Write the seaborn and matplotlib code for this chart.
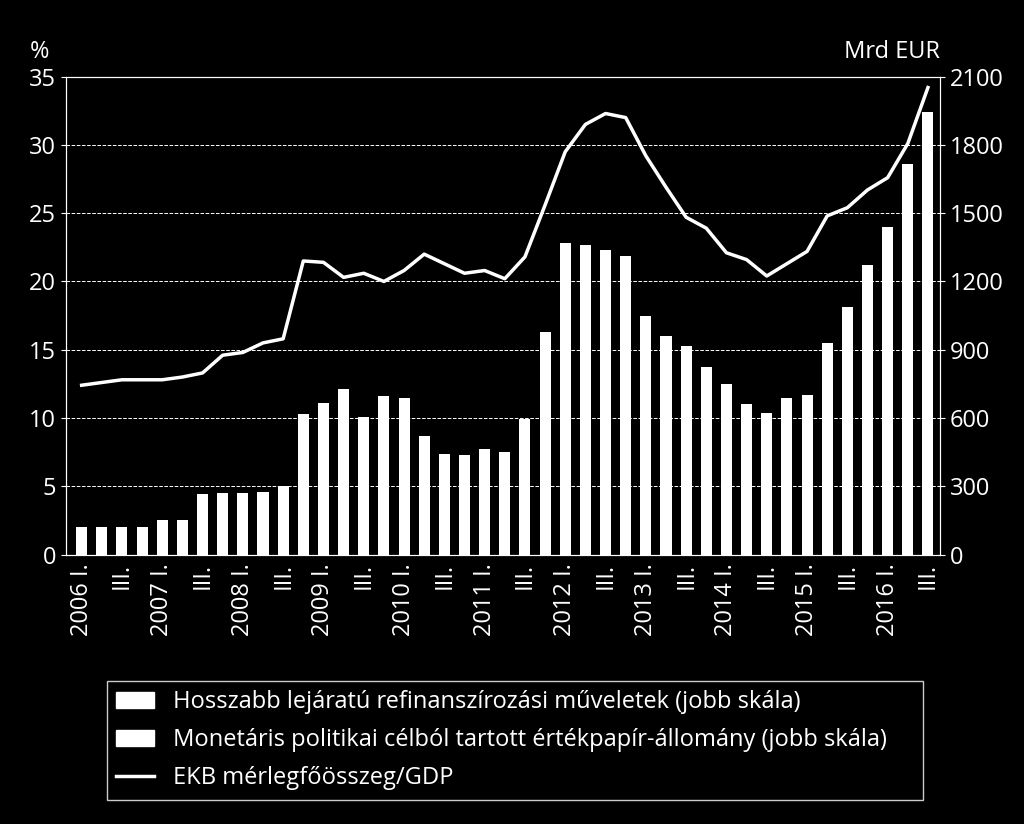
import matplotlib
matplotlib.use("Agg")
import matplotlib.pyplot as plt
import seaborn as sns
import numpy as np
import pandas as pd
from matplotlib.patches import Patch
from matplotlib.lines import Line2D

years = list(range(2006, 2017))
tick_labels = []
for y in years:
    tick_labels += [f"{y} I.", "", "III.", ""]
tick_labels = tick_labels[:43]

bars_pct = [2, 2, 2, 2, 2.5, 2.5, 4.4, 4.5, 4.5, 4.6, 5.0, 10.3, 11.1, 12.1, 10.1, 11.6,
            11.5, 8.7, 7.4, 7.3, 7.7, 7.5, 9.9, 16.3, 22.8, 22.7, 22.3, 21.9, 17.5, 16.0,
            15.3, 13.7, 12.5, 11.0, 10.4, 11.5, 11.7, 15.5, 18.1, 21.2, 24.0, 28.6, 32.4]
bars_eur = [v * 60 for v in bars_pct]
line_pct = [12.4, 12.6, 12.8, 12.8, 12.8, 13.0, 13.3, 14.6, 14.8, 15.5, 15.8, 21.5, 21.4,
            20.3, 20.6, 20.0, 20.8, 22.0, 21.3, 20.6, 20.8, 20.2, 21.8, 25.6, 29.5, 31.5,
            32.3, 32.0, 29.2, 26.9, 24.7, 23.9, 22.1, 21.6, 20.4, 21.3, 22.2, 24.8, 25.4,
            26.7, 27.6, 30.1, 34.2]
legend_labels = ["Hosszabb lejáratú refinanszírozási műveletek (jobb skála)",
                 "Monetáris politikai célból tartott értékpapír-állomány (jobb skála)",
                 "EKB mérlegfőösszeg/GDP"]

df = pd.DataFrame({"q": range(43), "bar": bars_eur, "line": line_pct})

plt.rcParams["font.family"] = "Open Sans"
fig = plt.figure(figsize=(10.24, 8.24), dpi=100, facecolor="black")
ax = fig.add_axes([0.064, 0.327, 0.854, 0.58])
ax.set_facecolor("black")
ax2 = ax.twinx()

sns.barplot(data=df, x="q", y="bar", ax=ax2, color="white", width=0.55, saturation=1)
ax2.set_ylim(0, 2100)
ax2.set_yticks(range(0, 2101, 300))
ax.set_ylim(0, 35)
ax.set_yticks(range(0, 36, 5))
ax.set_xlim(-0.8, 42.6)
ax.grid(axis="y", color="white", linestyle="--", linewidth=0.7)
ax.set_axisbelow(True)
ax2.set_zorder(1)
ax.set_zorder(2)
ax.patch.set_visible(False)
sns.lineplot(data=df, x="q", y="line", ax=ax, color="white", linewidth=2.5)

ax.set_xticks(range(43))
ax.set_xticklabels(tick_labels, rotation=90)
ax.tick_params(axis="x", length=0, pad=6)
for a in (ax, ax2):
    a.set_xlabel(""); a.set_ylabel("")
    a.tick_params(colors="white", labelsize=17)
    for s in a.spines.values():
        s.set_color("white")
ax2.tick_params(axis="x", length=0)
ax.text(-0.03, 1.04, "%", transform=ax.transAxes, color="white", fontsize=17, ha="center")
ax.text(1.0, 1.04, "Mrd EUR", transform=ax.transAxes, color="white", fontsize=17, ha="right")

handles = [Patch(facecolor="white", edgecolor="white"), Patch(facecolor="white", edgecolor="white"),
           Line2D([0], [0], color="white", lw=2.5)]
leg = fig.legend(handles, legend_labels, loc="lower left", bbox_to_anchor=(0.093, 0.015, 0.82, 0.18),
                 mode="expand", frameon=True, fontsize=17, labelcolor="white", facecolor="black",
                 edgecolor="white", fancybox=False, handlelength=1.6, labelspacing=0.6)
fig.savefig("out.png", facecolor="black")
